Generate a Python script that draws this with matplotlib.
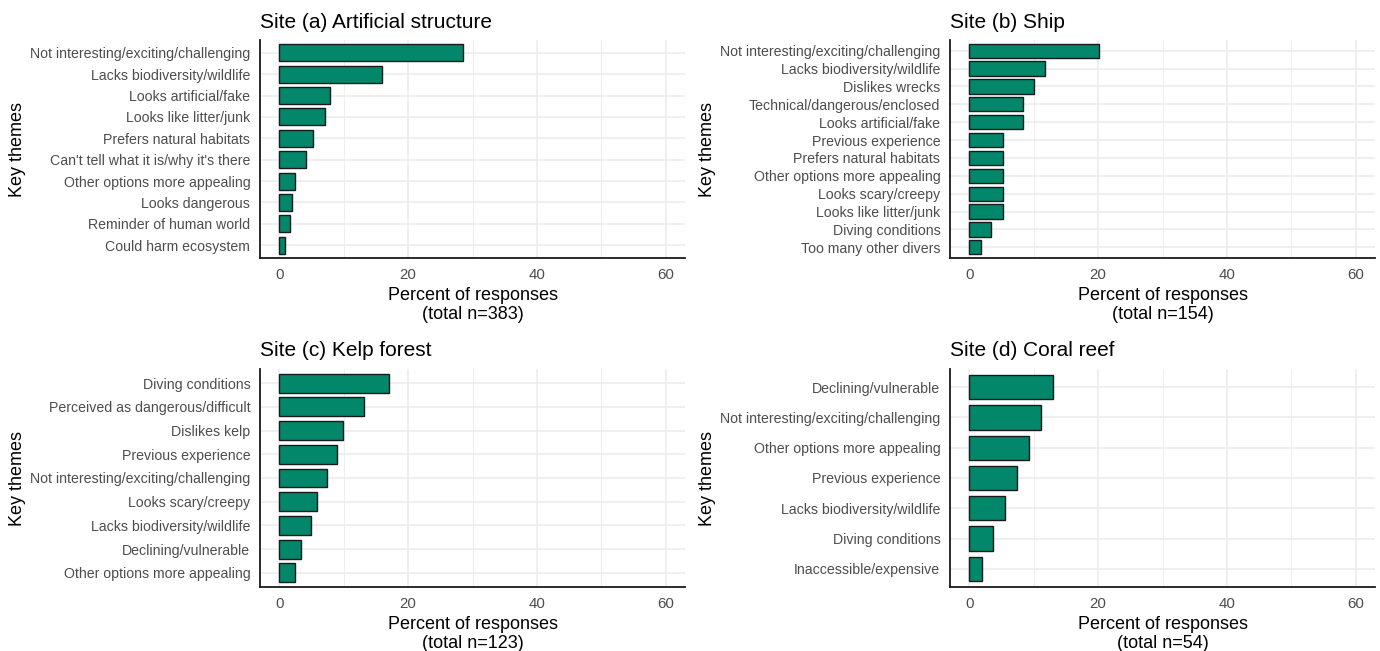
import matplotlib
matplotlib.use("Agg")
import matplotlib.pyplot as plt
import numpy as np

plt.rcParams['font.family'] = ['Liberation Sans', 'DejaVu Sans']

titles = ["Site (a) Artificial structure", "Site (b) Ship", "Site (c) Kelp forest", "Site (d) Coral reef"]
totals = [383, 154, 123, 54]

themes_a = ["Not interesting/exciting/challenging", "Lacks biodiversity/wildlife", "Looks artificial/fake",
            "Looks like litter/junk", "Prefers natural habitats", "Can't tell what it is/why it's there",
            "Other options more appealing", "Looks dangerous", "Reminder of human world", "Could harm ecosystem"]
values_a = [28.6, 15.9, 7.8, 7.1, 5.3, 4.2, 2.5, 1.9, 1.7, 0.9]

themes_b = ["Not interesting/exciting/challenging", "Lacks biodiversity/wildlife", "Dislikes wrecks",
            "Technical/dangerous/enclosed", "Looks artificial/fake", "Previous experience",
            "Prefers natural habitats", "Other options more appealing", "Looks scary/creepy",
            "Looks like litter/junk", "Diving conditions", "Too many other divers"]
values_b = [20.1, 11.7, 10.1, 8.4, 8.4, 5.2, 5.2, 5.2, 5.2, 5.2, 3.4, 1.8]

themes_c = ["Diving conditions", "Perceived as dangerous/difficult", "Dislikes kelp", "Previous experience",
            "Not interesting/exciting/challenging", "Looks scary/creepy", "Lacks biodiversity/wildlife",
            "Declining/vulnerable", "Other options more appealing"]
values_c = [17.1, 13.1, 9.9, 9.0, 7.4, 5.8, 4.9, 3.3, 2.5]

themes_d = ["Declining/vulnerable", "Not interesting/exciting/challenging", "Other options more appealing",
            "Previous experience", "Lacks biodiversity/wildlife", "Diving conditions", "Inaccessible/expensive"]
values_d = [13.0, 11.1, 9.3, 7.4, 5.6, 3.7, 1.9]

x_ticks = [0, 20, 40, 60]

W, H = 1380, 651
fig = plt.figure(figsize=(W / 100, H / 100), dpi=100)

# panel boxes in pixels: left, right, top, bottom
boxes = [(260, 685, 40, 258), (950, 1375, 40, 258), (260, 685, 369, 587), (950, 1375, 369, 587)]
panels = [(themes_a, values_a), (themes_b, values_b), (themes_c, values_c), (themes_d, values_d)]

bar_color = "#02876A"
grid_color = "#EBEBEB"

for (l, r, t, b), (themes, vals), title, n in zip(boxes, panels, titles, totals):
    ax = fig.add_axes([l / W, 1 - b / H, (r - l) / W, (b - t) / H])
    k = len(themes)
    y = np.arange(k)[::-1]
    ax.barh(y, vals, height=0.8, color=bar_color, edgecolor="#1a1a1a", linewidth=1.0, zorder=3)
    ax.set_xlim(-3, 63)
    ax.set_ylim(-0.6, k - 1 + 0.6)
    ax.set_yticks(y)
    ax.set_yticklabels(themes)
    ax.set_xticks(x_ticks)
    ax.set_xticks([10, 30, 50], minor=True)
    ax.grid(True, which="major", color=grid_color, linewidth=1.1, zorder=0)
    ax.grid(True, which="minor", axis="x", color=grid_color, linewidth=0.6, zorder=0)
    ax.set_axisbelow(True)
    for s in ["top", "right"]:
        ax.spines[s].set_visible(False)
    for s in ["left", "bottom"]:
        ax.spines[s].set_color("#1a1a1a")
        ax.spines[s].set_linewidth(1.3)
    ax.tick_params(axis="both", which="both", length=0, labelcolor="#4D4D4D")
    ax.tick_params(axis="y", pad=7, labelsize=10.2)
    ax.tick_params(axis="x", pad=7, labelsize=10.8)
    ax.set_title(title, loc="left", fontsize=15, pad=9, color="black")
    ax.set_xlabel("Percent of responses\n(total n=%d)" % n, fontsize=13, labelpad=4, linespacing=1.12)
    ax.set_ylabel("Key themes", fontsize=13)
    ax.yaxis.set_label_coords(-0.551, 0.5)

fig.savefig("out.png", dpi=100, facecolor="white")
